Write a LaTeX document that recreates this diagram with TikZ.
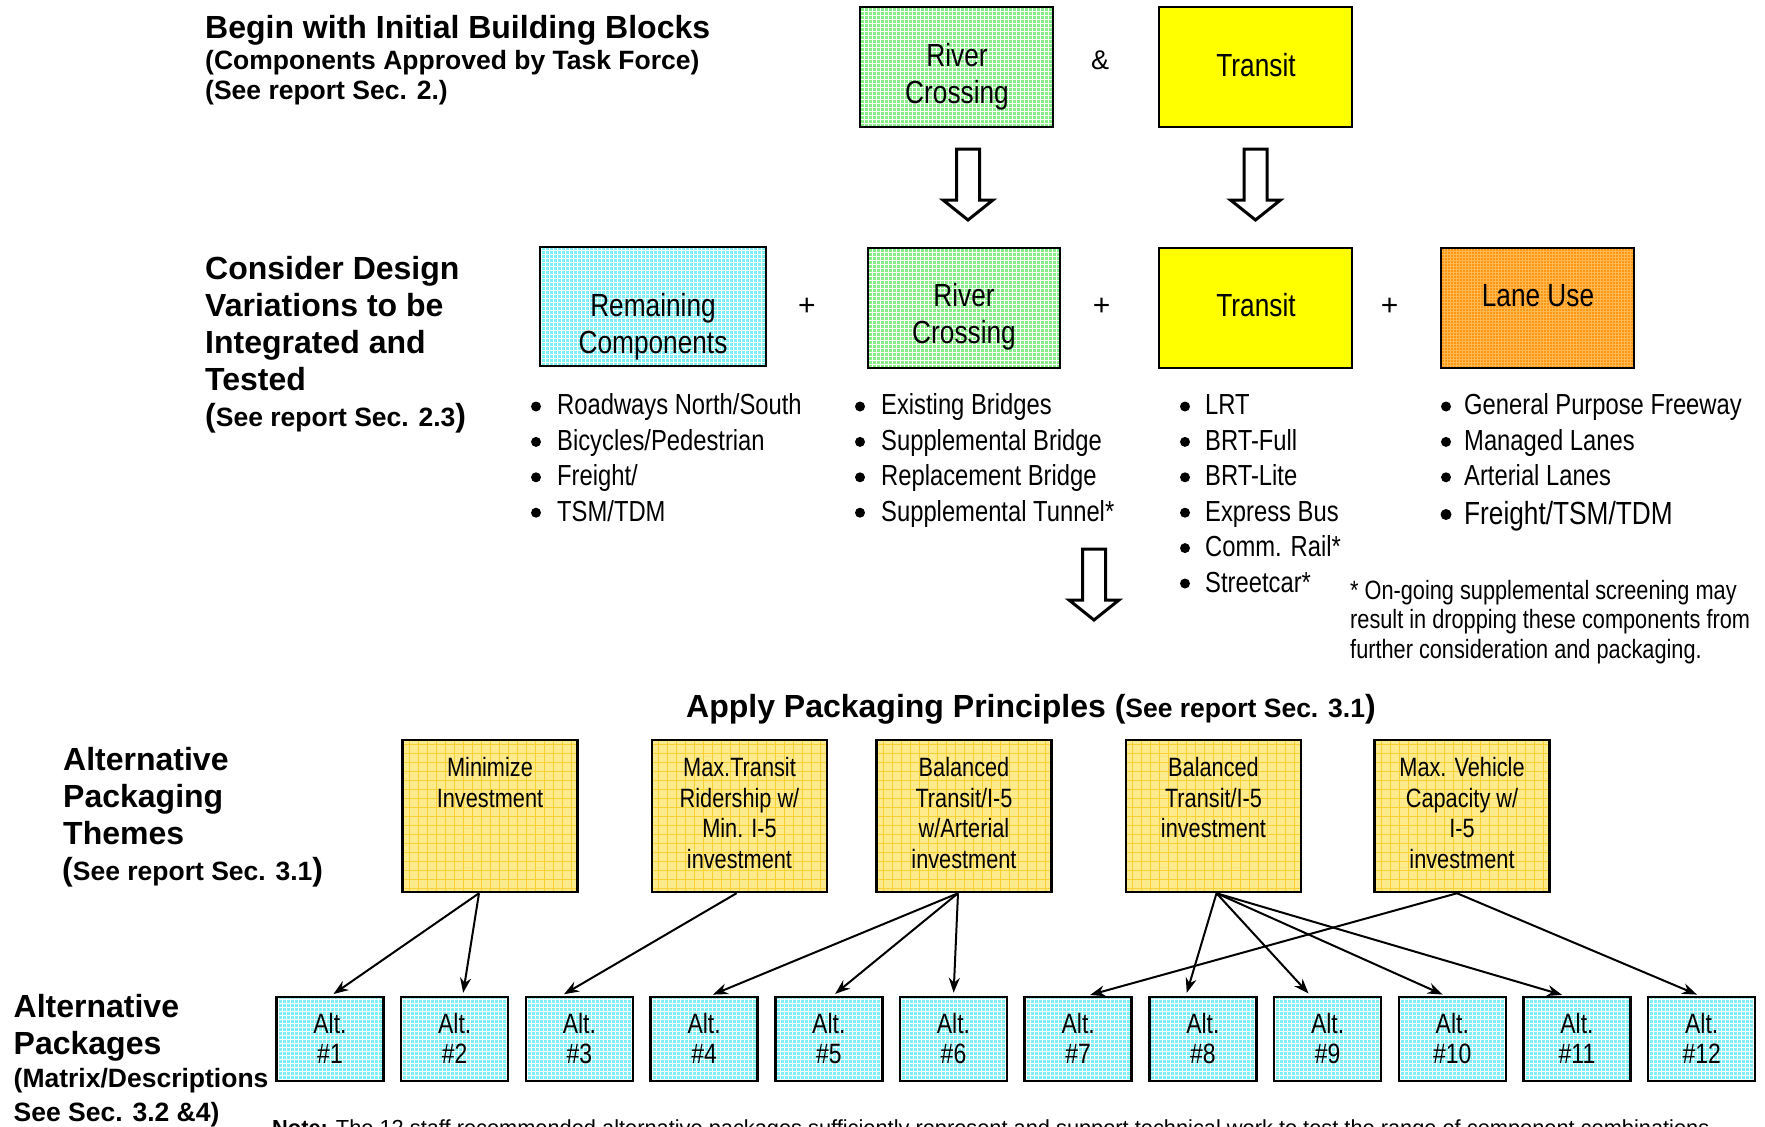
\documentclass[tikz,border=0pt]{standalone}
\usepackage{fontspec}
\setmainfont{Liberation Sans}
\newfontfamily\nar{Liberation Sans}[FakeStretch=0.82]
\usetikzlibrary{arrows.meta,calc}
\definecolor{cyb}{RGB}{128,240,244}
\definecolor{grb}{RGB}{135,238,135}
\definecolor{ylw}{RGB}{255,255,0}
\definecolor{orb}{RGB}{255,150,20}
\definecolor{orl}{RGB}{255,185,80}
\definecolor{thb}{RGB}{255,234,140}
\definecolor{thl}{RGB}{250,208,50}
\newcommand\clines[1]{\vtop{\halign{\hfil##\hfil\cr#1\crcr}}}
\newcommand\llines[1]{\vtop{\halign{##\hfil\cr#1\crcr}}}
\tikzset{
  box/.style={draw=black, line width=2.5pt, inner sep=0pt},
  gfill/.style n args={3}{fill=#1, path picture={\draw[#2, line width=1pt, step=#3]
     (path picture bounding box.south west) grid (path picture bounding box.north east);}},
  hd/.style={font=\fontsize{32}{37}\selectfont\bfseries, anchor=base west, inner sep=0pt},
  sub/.style={font=\fontsize{26.5}{30}\selectfont\bfseries, anchor=base west, inner sep=0pt},
  bxt/.style={font=\nar\fontsize{32}{37}\selectfont, anchor=base, inner sep=0pt},
  thtxt/.style={font=\nar\fontsize{26.5}{30.5}\selectfont, anchor=base, inner sep=0pt},
  alttxt/.style={font=\nar\fontsize{28}{30}\selectfont, anchor=base, inner sep=0pt},
  lst/.style={font=\nar\fontsize{29}{35.5}\selectfont, anchor=base west, inner sep=0pt},
  conn/.style={line width=2pt, -{Stealth[length=15pt,width=11pt]}, shorten >=3pt},
  barrow/.pic={\draw[line width=3pt, fill=white, line join=miter]
     (-11.5,0) -- (11.5,0) -- (11.5,51) -- (25,51) -- (0,71) -- (-25,51) -- (-11.5,51) -- cycle;}
}
\begin{document}
\begin{tikzpicture}[x=1pt, y=-1pt]
\useasboundingbox (0,0) rectangle (1765,1127);
\fill[white] (0,0) rectangle (1765,1127);

% ---------- headings ----------
\node[hd] (h1) at (205,38) {Begin with Initial Building Blocks};
\node[sub] (h1b) at (205,69) {(Components Approved by Task Force)};
\node[sub] (h1c) at (205,99) {(See report Sec. 2.)};

\node[hd] (h2) at (205,279.5) {\vtop{\baselineskip=36.9pt\hbox{Consider Design}\hbox{Variations to be}\hbox{Integrated and}\hbox{Tested}}};
\node[sub] (h2b) at (205,426.5) {{\fontsize{32}{37}\selectfont(}See report Sec. 2.3{\fontsize{32}{37}\selectfont)}};

\node[hd] (h3) at (686,717) {Apply Packaging Principles {\fontsize{32}{37}\selectfont(}{\fontsize{26.5}{30}\selectfont See report Sec. 3.1}{\fontsize{32}{37}\selectfont)}};

\node[hd] (h4) at (63,770) {\vtop{\baselineskip=37pt\hbox{Alternative}\hbox{Packaging}\hbox{Themes}}};
\node[sub] (h4b) at (62,880) {{\fontsize{32}{37}\selectfont(}See report Sec. 3.1{\fontsize{32}{37}\selectfont)}};

\node[hd] (h5) at (13.5,1017) {\vtop{\baselineskip=37pt\hbox{Alternative}\hbox{Packages}}};
\node[sub] (h5b) at (13.5,1087.5) {\vtop{\baselineskip=34pt\hbox{(Matrix/Descriptions}\hbox{See Sec. 3.2 \&4)}}};

% ---------- initial building blocks ----------
\node[box, gfill={grb}{white}{4pt}, minimum width=193pt, minimum height=120pt] (rc1) at (956.5,67) {};
\node[bxt] (rc1t) at (957,66.5) {\clines{River\cr Crossing}};
\node[box, fill=ylw, minimum width=193pt, minimum height=120pt] (tr1) at (1255.5,67) {};
\node[bxt] (tr1t) at (1256,76.5) {Transit};
\node[font=\fontsize{27}{30}\selectfont, anchor=base, inner sep=0pt] (amp) at (1100,69) {\&};

\pic at (968,149) {barrow};
\pic at (1255.5,149) {barrow};

% ---------- design variations ----------
\node[box, gfill={cyb}{white}{4pt}, minimum width=226pt, minimum height=119pt] (rem) at (653,306.5) {};
\node[bxt] (remt) at (653,316.5) {\clines{Remaining\cr Components}};
\node[box, gfill={grb}{white}{4pt}, minimum width=192pt, minimum height=120pt] (rc2) at (964,308) {};
\node[bxt] (rc2t) at (964,306.5) {\clines{River\cr Crossing}};
\node[box, fill=ylw, minimum width=193pt, minimum height=120pt] (tr2) at (1255.5,308) {};
\node[bxt] (tr2t) at (1256,316.5) {Transit};
\node[box, gfill={orb}{orl}{3pt}, minimum width=193pt, minimum height=120pt] (lane) at (1537.5,308) {};
\node[bxt] (lanet) at (1538,306.5) {Lane Use};

\node[font=\fontsize{30}{34}\selectfont, anchor=center, inner sep=0pt] (p1) at (807,307) {+};
\node[font=\fontsize{30}{34}\selectfont, anchor=center, inner sep=0pt] (p2) at (1101.5,307) {+};
\node[font=\fontsize{30}{34}\selectfont, anchor=center, inner sep=0pt] (p3) at (1389.5,307) {+};

% lists
\foreach \k in {0,...,3}{\fill (536,406.5+35.4*\k) circle[radius=5pt];}
\node[lst] (l1) at (557,414.5) {\llines{Roadways North/South\cr Bicycles/Pedestrian\cr Freight/\cr TSM/TDM}};
\foreach \k in {0,...,3}{\fill (860,406.5+35.4*\k) circle[radius=5pt];}
\node[lst] (l2) at (881,414.5) {\llines{Existing Bridges\cr Supplemental Bridge\cr Replacement Bridge\cr Supplemental Tunnel*}};
\foreach \k in {0,...,5}{\fill (1185,406.5+35.4*\k) circle[radius=5pt];}
\node[lst] (l3) at (1205,414.5) {\llines{LRT\cr BRT-Full\cr BRT-Lite\cr Express Bus\cr Comm. Rail*\cr Streetcar*}};
\foreach \k in {0,...,2}{\fill (1446,406.5+35.4*\k) circle[radius=5pt];}
\node[lst] (l4) at (1464,414.5) {\llines{General Purpose Freeway\cr Managed Lanes\cr Arterial Lanes}};
\fill (1446,514.5) circle[radius=5.5pt];
\node[lst, font=\nar\fontsize{32}{37}\selectfont] (l4b) at (1464,524.5) {Freight/TSM/TDM};

\node[font=\nar\fontsize{26.5}{29.5}\selectfont, anchor=base west, inner sep=0pt] (fn) at (1350,599)
  {\llines{* On-going supplemental screening may\cr result in dropping these components from\cr further consideration and packaging.}};

\pic at (1094,549) {barrow};

% ---------- packaging themes ----------
\foreach \nm/\cx in {thmin/490, thmt/739.5, thb1/964, thb2/1213.5, thmv/1462}{
  \node[box, gfill={thb}{thl}{9pt}, minimum width=175pt, minimum height=152pt] (\nm) at (\cx,816) {};
}
\node[thtxt] (thmint) at (490,776.5) {\clines{Minimize\cr Investment}};
\node[thtxt] (thmtt) at (739.5,776.5) {\clines{Max.Transit\cr Ridership w/\cr Min. I-5\cr investment}};
\node[thtxt] (thb1t) at (964,776.5) {\clines{Balanced\cr Transit/I-5\cr w/Arterial\cr investment}};
\node[thtxt] (thb2t) at (1213.5,776.5) {\clines{Balanced\cr Transit/I-5\cr investment}};
\node[thtxt] (thmvt) at (1462,776.5) {\clines{Max. Vehicle\cr Capacity w/\cr I-5\cr investment}};

% ---------- alternative packages ----------
\foreach \i in {1,...,12}{
  \pgfmathsetmacro\cx{330+124.7*(\i-1)}
  \node[box, gfill={cyb}{white}{4pt}, minimum width=107pt, minimum height=84pt] (alt\i) at (\cx,1039) {};
  \node[alttxt] (alt\i t) at (\cx,1033) {\clines{Alt.\cr\#\i}};
}

% ---------- connectors ----------
\draw[conn] ($(thmin.south)+(-11,0)$) -- ($(alt1.north)+(1,0)$);
\draw[conn] ($(thmin.south)+(-11,0)$) -- ($(alt2.north)+(8,0)$);
\draw[conn] ($(thmt.south)+(-3,0)$) -- ($(alt3.north)+(-18,0)$);
\draw[conn] ($(thb1.south)+(-6,0)$) -- ($(alt4.north)+(6,0)$);
\draw[conn] ($(thb1.south)+(-6,0)$) -- ($(alt5.north)+(4,0)$);
\draw[conn] ($(thb1.south)+(-6,0)$) -- ($(alt6.north)+(0,0)$);
\draw[conn] ($(thb2.south)+(3,0)$) -- ($(alt8.north)+(-17,0)$);
\draw[conn] ($(thb2.south)+(3,0)$) -- ($(alt9.north)+(-17,0)$);
\draw[conn] ($(thb2.south)+(3,0)$) -- ($(alt10.north)+(-7,0)$);
\draw[conn] ($(thb2.south)+(3,0)$) -- ($(alt11.north)+(-12,0)$);
\draw[conn] ($(thmv.south)+(-5,0)$) -- ($(alt7.north)+(9,0)$);
\draw[conn] ($(thmv.south)+(-5,0)$) -- ($(alt12.north)+(-2,0)$);

% ---------- note ----------
\node[font=\fontsize{21.8}{24}\selectfont, anchor=base west, inner sep=0pt] (note) at (272,1135)
  {\textbf{Note:} The 12 staff recommended alternative packages sufficiently represent and support technical work to test the range of component combinations.};
\end{tikzpicture}
\end{document}
